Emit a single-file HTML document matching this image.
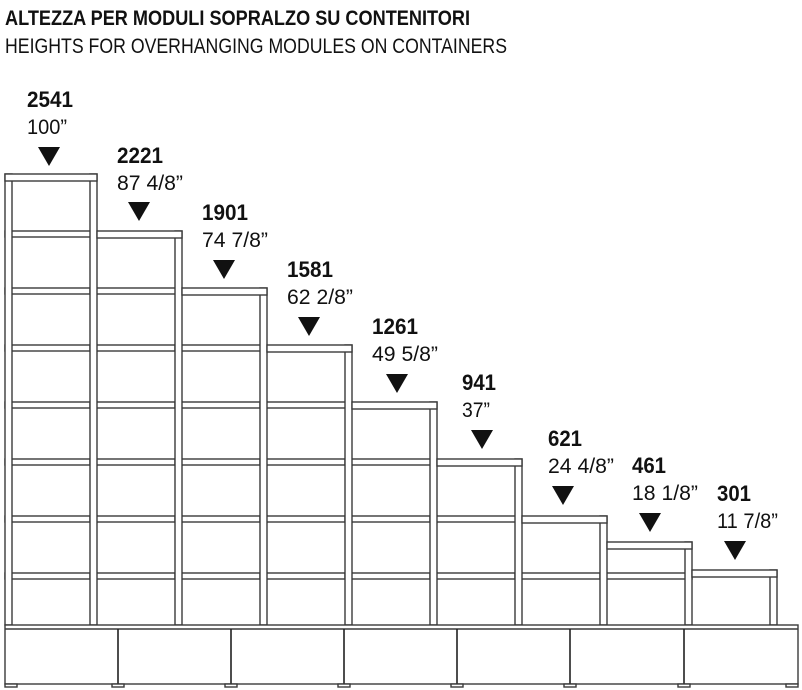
<!DOCTYPE html>
<html><head><meta charset="utf-8">
<style>
html,body{margin:0;padding:0;background:#fff;}
svg{display:block;}
text{font-family:"Liberation Sans",sans-serif;fill:#111;}
</style></head>
<body>
<svg id="s" width="802" height="690" viewBox="0 0 802 690" xmlns="http://www.w3.org/2000/svg">
<text x="5" y="25" font-size="21" font-weight="bold" textLength="465" lengthAdjust="spacingAndGlyphs">ALTEZZA PER MODULI SOPRALZO SU CONTENITORI</text>
<text x="5" y="53" font-size="21" textLength="502" lengthAdjust="spacingAndGlyphs">HEIGHTS FOR OVERHANGING MODULES ON CONTAINERS</text>
</svg>
<script>
var s=document.getElementById('s'),NS='http://www.w3.org/2000/svg';
function el(t,a,txt){var e=document.createElementNS(NS,t);for(var k in a)e.setAttribute(k,a[k]);if(txt)e.textContent=txt;s.appendChild(e);return e;}
var st={fill:'#fff',stroke:'#3a3a3a','stroke-width':1.4};
function R(x,y,w,h){var a={x:x,y:y,width:w,height:h};for(var k in st)a[k]=st[k];el('rect',a);}
var tops=[174,231,288,345,402,459,516,542,570];
var B=625;
for(var i=0;i<9;i++){
  var x0=5+85*i, x1=5+85*(i+1)+7;
  for(var y=174;y<=573;y+=57){ if(y>tops[i]+20) R(x0,y,x1-x0,6); }
}
for(var j=0;j<10;j++){
  var t=tops[Math.max(j-1,0)];
  R(5+85*j,t,7,B-t);
}
for(var i=0;i<9;i++){
  var x0=(i==0?5:5+85*i+7), x1=5+85*(i+1)+7;
  R(x0,tops[i],x1-x0,7);
}
R(5,B,793,59);
el('line',{x1:5,y1:B+4,x2:798,y2:B+4,stroke:'#3a3a3a','stroke-width':1.4});
[118,231,344,457,570,684].forEach(function(x){el('line',{x1:x,y1:B+4,x2:x,y2:684,stroke:'#222','stroke-width':1.6});});
[5,112,225,338,451,564,678,786].forEach(function(x){R(x,684,12,3);});
var L=[[27,107,'2541','100”',46,40,49,147],[117,163,'2221','87 4/8”',46,66,139,202],[202,220,'1901','74 7/8”',46,66,224,260],
[287,277,'1581','62 2/8”',46,66,309,317],[372,334,'1261','49 5/8”',46,66,397,374],[462,390,'941','37”',34,28,482,430],
[548,446,'621','24 4/8”',34,66,563,486],[632,473,'461','18 1/8”',34,66,650,513],[717,501,'301','11 7/8”',34,61,735,541]];
L.forEach(function(l){
  el('text',{x:l[0],y:l[1],'font-size':22,'font-weight':'bold',textLength:l[4],lengthAdjust:'spacingAndGlyphs'},l[2]);
  el('text',{x:l[0],y:l[1]+27,'font-size':21,textLength:l[5],lengthAdjust:'spacingAndGlyphs'},l[3]);
  var cx=l[6],ty=l[7];
  el('polygon',{points:(cx-11)+','+ty+' '+(cx+11)+','+ty+' '+cx+','+(ty+19),fill:'#111'});
});
</script>
</body></html>
